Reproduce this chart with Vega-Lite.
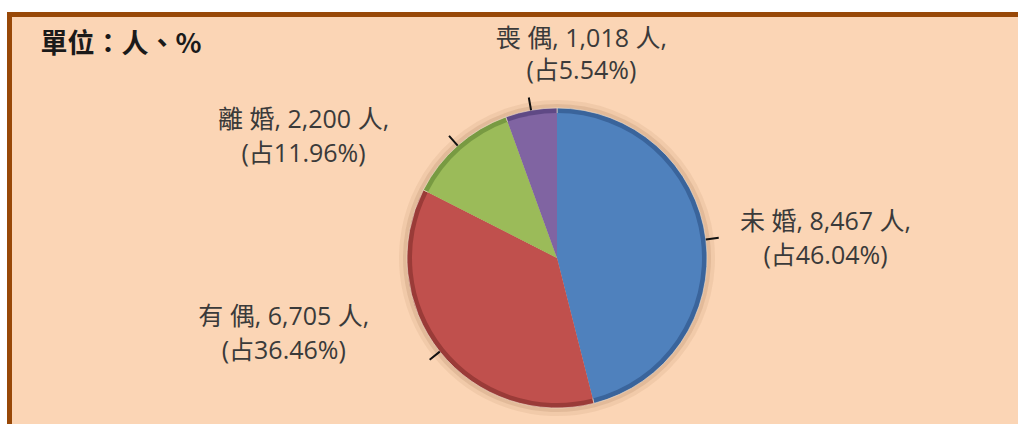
{
  "$schema": "https://vega.github.io/schema/vega-lite/v6.json",
  "width": 1095,
  "height": 487,
  "autosize": {"type": "none"},
  "padding": {"left": 9.5, "top": 14.5, "right": -86.5, "bottom": -77.5},
  "background": "#ffffff",
  "view": {"fill": "#FBD5B5", "stroke": "#984807", "strokeWidth": 5},
  "title": {
    "text": "單位：人、%",
    "anchor": "start",
    "frame": "group",
    "orient": "top",
    "offset": -97,
    "dx": 31,
    "baseline": "alphabetic",
    "font": "Noto Sans CJK TC",
    "fontSize": 27,
    "fontWeight": "bold",
    "color": "#1a1a1a"
  },
  "data": {
    "values": [
      {"status": "未婚", "count": 8467, "pct": 46.04, "rank": 1, "label": "未 婚, 8,467 人,\n(占46.04%)"},
      {"status": "有偶", "count": 6705, "pct": 36.46, "rank": 2, "label": "有 偶, 6,705 人,\n(占36.46%)"},
      {"status": "離婚", "count": 2200, "pct": 11.96, "rank": 3, "label": "離 婚, 2,200 人,\n(占11.96%)"},
      {"status": "喪偶", "count": 1018, "pct": 5.54, "rank": 4, "label": "喪 偶, 1,018 人,\n(占5.54%)"}
    ]
  },
  "encoding": {
    "theta": {"field": "count", "type": "quantitative", "stack": true},
    "order": {"field": "rank", "type": "quantitative"}
  },
  "layer": [
    {"mark": {"type": "arc", "radius": 158, "fill": "#7a4a2a", "opacity": 0.08}},
    {"mark": {"type": "arc", "radius": 154, "fill": "#7a4a2a", "opacity": 0.12}},
    {
      "mark": {"type": "arc", "radius": 150, "stroke": "#f3e2d0", "strokeWidth": 0.6},
      "encoding": {
        "fill": {
          "field": "status",
          "type": "nominal",
          "scale": {"domain": ["未婚", "有偶", "離婚", "喪偶"], "range": ["#3a649b", "#9a3b38", "#789a42", "#5f4985"]},
          "legend": null
        }
      }
    },
    {
      "mark": {"type": "arc", "radius": 145},
      "encoding": {
        "color": {
          "field": "status",
          "type": "nominal",
          "scale": {"domain": ["未婚", "有偶", "離婚", "喪偶"], "range": ["#4F81BD", "#C0504D", "#9BBB59", "#8064A2"]},
          "legend": null
        }
      }
    },
    {"mark": {"type": "arc", "radius": 163, "radius2": 150, "padAngle": 3, "fillOpacity": 0, "stroke": "#111111", "strokeWidth": 2}},
    {
      "mark": {"type": "text", "radius": 200, "dx": 70, "dy": -11, "align": "center", "baseline": "middle", "lineBreak": "\n", "lineHeight": 34, "font": "Open Sans, Noto Sans CJK TC", "fontSize": 25, "color": "#3a3a3a"},
      "encoding": {"text": {"condition": {"test": "datum.status === '未婚'", "field": "label", "type": "nominal"}, "value": ""}}
    },
    {
      "mark": {"type": "text", "radius": 200, "dx": -117, "dy": -66, "align": "center", "baseline": "middle", "lineBreak": "\n", "lineHeight": 34, "font": "Open Sans, Noto Sans CJK TC", "fontSize": 25, "color": "#3a3a3a"},
      "encoding": {"text": {"condition": {"test": "datum.status === '有偶'", "field": "label", "type": "nominal"}, "value": ""}}
    },
    {
      "mark": {"type": "text", "radius": 200, "dx": -121, "dy": 12, "align": "center", "baseline": "middle", "lineBreak": "\n", "lineHeight": 34, "font": "Open Sans, Noto Sans CJK TC", "fontSize": 25, "color": "#3a3a3a"},
      "encoding": {"text": {"condition": {"test": "datum.status === '離婚'", "field": "label", "type": "nominal"}, "value": ""}}
    },
    {
      "mark": {"type": "text", "radius": 200, "dx": 59, "dy": -22, "align": "center", "baseline": "middle", "lineBreak": "\n", "lineHeight": 32, "font": "Open Sans, Noto Sans CJK TC", "fontSize": 25, "color": "#3a3a3a"},
      "encoding": {"text": {"condition": {"test": "datum.status === '喪偶'", "field": "label", "type": "nominal"}, "value": ""}}
    }
  ]
}
